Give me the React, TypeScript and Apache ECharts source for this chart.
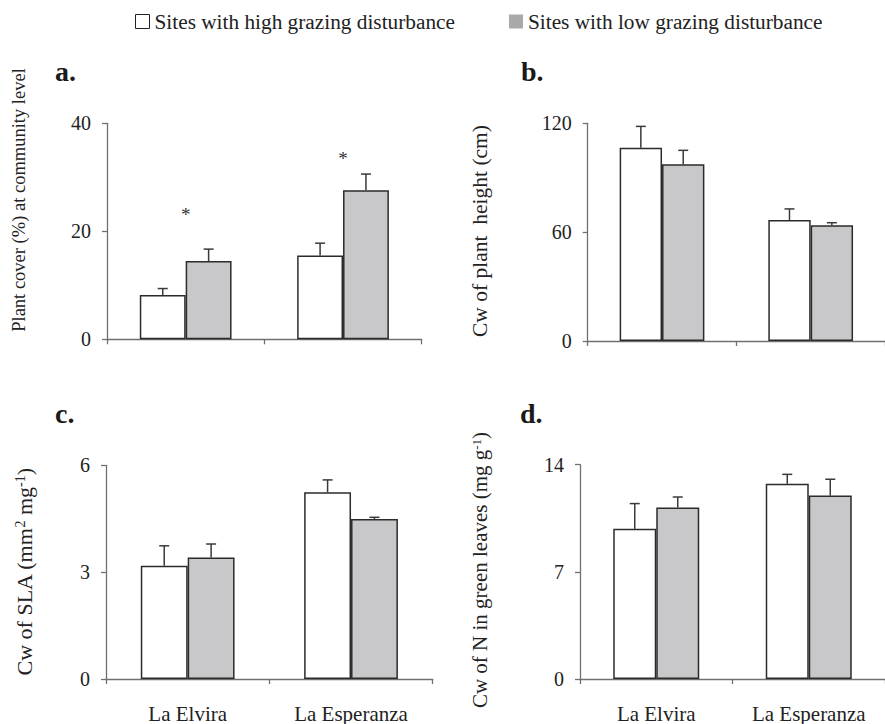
import React, { useEffect, useRef } from "react";
import * as echarts from "echarts";

// ---------- data ----------
const categories = ["La Elvira", "La Esperanza"];
const seriesNames = [
  "Sites with high grazing disturbance",
  "Sites with low grazing disturbance",
];

// a. Plant cover (%)
const coverHigh = [8.2, 15.5];
const coverHighSE = [1.2, 2.3];
const coverLow = [14.5, 27.6];
const coverLowSE = [2.2, 3.0];
const coverStars = [23.2, 33.4];
const coverTicks = [0, 20, 40];

// b. Cw of plant height (cm)
const heightHigh = [106.5, 66.7];
const heightHighSE = [11.8, 6.1];
const heightLow = [97.4, 63.8];
const heightLowSE = [7.7, 1.4];
const heightTicks = [0, 60, 120];

// c. Cw of SLA
const slaHigh = [3.18, 5.24];
const slaHighSE = [0.56, 0.35];
const slaLow = [3.41, 4.49];
const slaLowSE = [0.38, 0.05];
const slaTicks = [0, 3, 6];

// d. Cw of N in green leaves
const nHigh = [9.81, 12.76];
const nHighSE = [1.65, 0.61];
const nLow = [11.2, 11.98];
const nLowSE = [0.69, 1.07];
const nTicks = [0, 7, 14];

// ---------- layout / style ----------
const FONT = "Liberation Serif";
const AXIS_COLOR = "#707070";
const TEXT_COLOR = "#222";
const BAR_BORDER = "#2b2b2b";
const GRAY = "#c8c8ca";

const grids = [
  { left: 107, top: 123.3, width: 314.7, height: 216 },
  { left: 587.7, top: 123.3, width: 304.6, height: 217.7 },
  { left: 106, top: 465.3, width: 326.7, height: 218 },
  { left: 580, top: 464.7, width: 312, height: 215 },
];
const gaps = [0.417, 0.43, 0.426, 0.436];

const panels = [
  { high: coverHigh, highSE: coverHighSE, low: coverLow, lowSE: coverLowSE, ticks: coverTicks },
  { high: heightHigh, highSE: heightHighSE, low: heightLow, lowSE: heightLowSE, ticks: heightTicks },
  { high: slaHigh, highSE: slaHighSE, low: slaLow, lowSE: slaLowSE, ticks: slaTicks },
  { high: nHigh, highSE: nHighSE, low: nLow, lowSE: nLowSE, ticks: nTicks },
];

function makeErrRender(gapFrac: number) {
  return (params: any, api: any) => {
    const k = api.value(0);
    const v = api.value(1);
    const t = api.value(2);
    const side = api.value(3);
    const catW = api.size([1, 0])[0];
    const bw = (catW * (1 - gapFrac)) / 2;
    const p0 = api.coord([k, v]);
    const p1 = api.coord([k, t]);
    const x = p0[0] + (side * bw) / 2;
    const st = { stroke: "#3a3a3a", lineWidth: 1.5 };
    return {
      type: "group",
      children: [
        { type: "line", shape: { x1: x, y1: p0[1], x2: x, y2: p1[1] }, style: st },
        { type: "line", shape: { x1: x - 5, y1: p1[1], x2: x + 5, y2: p1[1] }, style: st },
      ],
    };
  };
}

function buildOption() {
  const xAxis: any[] = [];
  const yAxis: any[] = [];
  const series: any[] = [];
  panels.forEach((p, i) => {
    const ticks = p.ticks;
    xAxis.push({
      type: "category",
      gridIndex: i,
      data: categories,
      axisLine: { lineStyle: { color: AXIS_COLOR, width: 1.3 } },
      axisTick: { show: true, length: 5, lineStyle: { color: AXIS_COLOR, width: 1.3 } },
      axisLabel: {
        show: i >= 2,
        fontSize: 21,
        fontFamily: FONT,
        color: TEXT_COLOR,
        margin: 24,
      },
    });
    yAxis.push({
      type: "value",
      gridIndex: i,
      min: ticks[0],
      max: ticks[ticks.length - 1],
      interval: ticks[1] - ticks[0],
      splitLine: { show: false },
      axisLine: { show: true, lineStyle: { color: AXIS_COLOR, width: 1.3 } },
      axisTick: { show: true, length: 5, lineStyle: { color: AXIS_COLOR, width: 1.3 } },
      axisLabel: { fontSize: 20, fontFamily: FONT, color: TEXT_COLOR, margin: 16 },
    });
    const gap = gaps[i];
    series.push({
      type: "bar",
      name: seriesNames[0],
      xAxisIndex: i,
      yAxisIndex: i,
      data: p.high,
      barGap: "0%",
      barCategoryGap: gap * 100 + "%",
      itemStyle: { color: "#ffffff", borderColor: BAR_BORDER, borderWidth: 1.5 },
      z: 2,
    });
    series.push({
      type: "bar",
      name: seriesNames[1],
      xAxisIndex: i,
      yAxisIndex: i,
      data: p.low,
      barGap: "0%",
      barCategoryGap: gap * 100 + "%",
      itemStyle: { color: GRAY, borderColor: BAR_BORDER, borderWidth: 1.5 },
      z: 2,
    });
    const errData = [
      ...p.high.map((v, k) => [k, v, v + p.highSE[k], -1]),
      ...p.low.map((v, k) => [k, v, v + p.lowSE[k], 1]),
    ];
    series.push({
      type: "custom",
      xAxisIndex: i,
      yAxisIndex: i,
      data: errData,
      encode: { x: 0, y: 2 },
      renderItem: makeErrRender(gap),
      z: 1,
      silent: true,
    });
  });
  // significance asterisks in panel a
  series.push({
    type: "custom",
    xAxisIndex: 0,
    yAxisIndex: 0,
    data: coverStars.map((v, k) => [k, v]),
    encode: { x: 0, y: 1 },
    renderItem: (params: any, api: any) => {
      const pt = api.coord([api.value(0), api.value(1)]);
      return {
        type: "text",
        x: pt[0],
        y: pt[1],
        style: {
          text: "*",
          fontSize: 19,
          fontFamily: FONT,
          fill: "#333",
          align: "center",
          verticalAlign: "middle",
        },
      };
    },
    z: 3,
    silent: true,
  });

  const panelLabel = (t: string, x: number, y: number) => ({
    type: "text",
    x,
    y,
    style: {
      text: t,
      fontSize: 28,
      fontWeight: "bold",
      fontFamily: FONT,
      fill: "#1a1a1a",
      align: "left",
      verticalAlign: "middle",
    },
  });
  const yTitle = (t: string, x: number, y: number, size: number, rich?: any) => ({
    type: "text",
    x,
    y,
    rotation: Math.PI / 2,
    style: {
      text: t,
      fontSize: size,
      fontFamily: FONT,
      fill: TEXT_COLOR,
      align: "center",
      verticalAlign: "middle",
      rich,
    },
  });
  const supRich = (size: number) => ({
    sup: {
      fontSize: Math.round(size * 0.62),
      fontFamily: FONT,
      fill: TEXT_COLOR,
      verticalAlign: "top",
      padding: [0, 0, 8, 0],
    },
  });

  return {
    animation: false,
    backgroundColor: "#ffffff",
    textStyle: { fontFamily: FONT },
    legend: {
      left: 130,
      top: 6,
      itemWidth: 14,
      itemHeight: 14,
      itemGap: 54,
      textStyle: { fontSize: 21.3, fontFamily: FONT, color: TEXT_COLOR },
      data: [
        { name: seriesNames[0], icon: "rect", itemStyle: { color: "#ffffff", borderColor: "#222", borderWidth: 1 } },
        { name: seriesNames[1], icon: "rect", itemStyle: { color: "#a9a9a9", borderWidth: 0 } },
      ],
      selectedMode: false,
    },
    grid: grids.map((g) => ({ ...g, containLabel: false })),
    xAxis,
    yAxis,
    series,
    graphic: [
      panelLabel("a.", 55, 71),
      panelLabel("b.", 521, 71),
      panelLabel("c.", 55, 413),
      panelLabel("d.", 520, 413),
      yTitle("Plant cover (%) at community level", 19, 200, 18.5),
      yTitle("Cw of plant  height (cm)", 480, 231, 21.5),
      yTitle("Cw of SLA (mm{sup|2} mg{sup|-1})", 24, 572, 22, supRich(22)),
      yTitle("Cw of N in green leaves (mg g{sup|-1})", 480, 570, 21, supRich(21)),
    ],
  };
}

export default function App() {
  const ref = useRef<HTMLDivElement>(null);
  useEffect(() => {
    if (!ref.current) return;
    const chart = echarts.init(ref.current, undefined, { renderer: "svg" });
    chart.setOption(buildOption() as any);
    return () => chart.dispose();
  }, []);
  return (
    <div
      ref={ref}
      style={{ position: "fixed", left: 0, top: 0, width: 885, height: 724, background: "#fff" }}
    />
  );
}
